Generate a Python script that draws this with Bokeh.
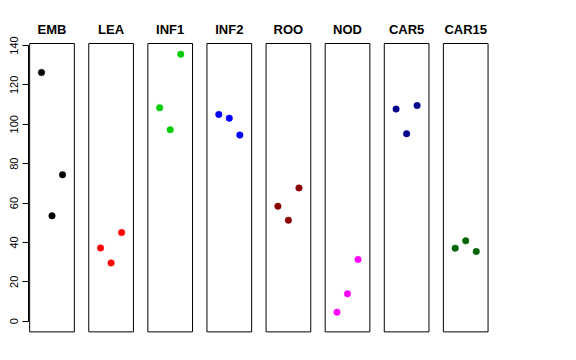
from bokeh.plotting import figure
from bokeh.models import Range1d, FixedTicker
from bokeh.embed import file_html
from bokeh.resources import INLINE
from bokeh.core.properties import value

tissues = ["EMB", "LEA", "INF1", "INF2", "ROO", "NOD", "CAR5", "CAR15"]
colors = ["#000000", "#FF0000", "#00CD00", "#0000FF", "#8B0000", "#FF00FF", "#00008B", "#006400"]
rep1 = [126.3, 37.2, 108.4, 105.0, 58.4, 4.6, 107.7, 37.1]
rep2 = [53.5, 29.6, 97.2, 103.1, 51.3, 13.9, 95.2, 40.8]
rep3 = [74.4, 45.0, 135.6, 94.5, 67.7, 31.3, 109.5, 35.4]
yticks = [0, 20, 40, 60, 80, 100, 120, 140]
ylim = (0, 135.6)

pad = 0.04 * (ylim[1] - ylim[0])
box_bottom = ylim[0] - pad
box_top = ylim[1] + pad

p = figure(width=568, height=348, frame_width=540, frame_height=340,
           x_range=Range1d(-0.3976, 8.739), y_range=Range1d(-13.87, 158.8),
           output_backend="svg", toolbar_location=None, x_axis_type=None,
           min_border_left=28, min_border_right=0, min_border_top=8, min_border_bottom=0)
p.grid.visible = False
p.outline_line_color = None
p.background_fill_color = "white"
p.border_fill_color = "white"

n = len(tissues)
half_w = 0.378
idx = list(range(n))
p.quad(left=[i - half_w for i in idx], right=[i + half_w for i in idx],
       bottom=[box_bottom] * n, top=[box_top] * n,
       fill_color=None, line_color="black", line_width=1)

off = 0.178
xs, ys, cs = [], [], []
for i in idx:
    for j, rep in enumerate([rep1, rep2, rep3]):
        xs.append(i + (j - 1) * off)
        ys.append(rep[i])
        cs.append(colors[i])
p.scatter(x=xs, y=ys, size=6.5, fill_color=cs, line_color=cs, line_width=0.5)

p.text(x=idx, y=[148.0] * n, text=tissues, text_align="center", text_baseline="alphabetic",
       text_font=value("Liberation Sans"), text_font_style="bold", text_font_size="13px",
       text_color="black")

ax = p.yaxis[0]
ax.ticker = FixedTicker(ticks=yticks)
ax.bounds = (yticks[0], yticks[-1])
ax.major_label_orientation = "vertical"
ax.major_tick_out = 6
ax.major_tick_in = 0
ax.minor_tick_line_color = None
ax.axis_line_color = "black"
ax.major_tick_line_color = "black"
ax.major_label_text_color = "black"
ax.major_label_text_font = "Liberation Sans"
ax.major_label_text_font_size = "11px"
ax.major_label_standoff = 4

open("out.html", "w").write(file_html(p, INLINE))
